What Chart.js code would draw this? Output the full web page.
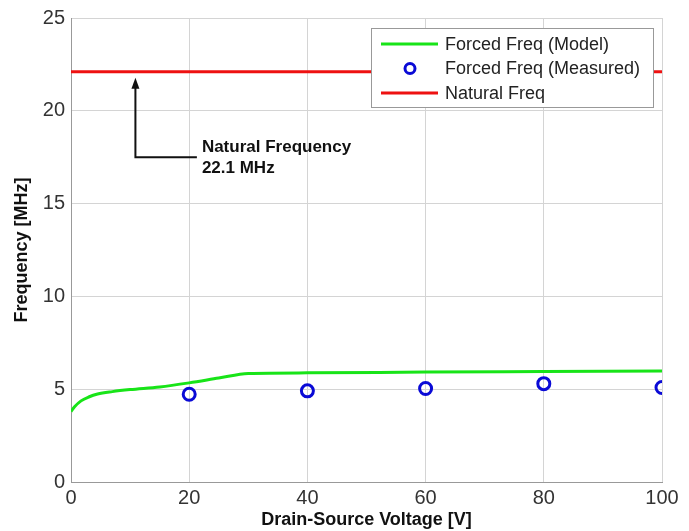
<!DOCTYPE html>
<html>
<head>
<meta charset="utf-8">
<script src="https://cdn.jsdelivr.net/npm/chart.js@4/dist/chart.umd.min.js"></script>
<style>
  html, body { margin: 0; padding: 0; background: #fff; }
  #wrap { width: 689px; height: 531px; position: relative; }
</style>
</head>
<body>
<div id="wrap"><canvas id="freqChart" width="689" height="531"></canvas></div>
<script>
// model curve (V, MHz)
const modelVoltage = [0, 0.6, 1.7, 3, 4.5, 7, 10, 15, 20, 25, 30, 40, 60, 80, 100];
const modelFreq = [3.8, 4.05, 4.37, 4.58, 4.74, 4.87, 4.98, 5.12, 5.34, 5.6, 5.85, 5.88, 5.92, 5.95, 5.98];
// measured points
const measVoltage = [20, 40, 60, 80, 100];
const measFreq = [4.73, 4.91, 5.04, 5.3, 5.09];
// natural frequency
const naturalVoltage = [0, 100];
const naturalFreq = [22.1, 22.1];

const xTicks = [0, 20, 40, 60, 80, 100];
const yTicks = [0, 5, 10, 15, 20, 25];

const seriesNames = ['Forced Freq (Model)', 'Forced Freq (Measured)', 'Natural Freq'];
const noteLines = ['Natural Frequency', '22.1 MHz'];

const FONT = '"Liberation Sans", Arial, sans-serif';

function toPoints(xs, ys) {
    return xs.map((x, i) => ({ x: x, y: ys[i] }));
}

// 矢印と注記
const notePlugin = {
    id: 'note',
    afterDatasetsDraw(chart) {
        const ctx = chart.ctx;
        const xs = chart.scales.x, ys = chart.scales.y;
        const ax = xs.getPixelForValue(10.9);
        const tipY = ys.getPixelForValue(22.1) + 6;
        const cornerY = ys.getPixelForValue(17.5);
        const endX = xs.getPixelForValue(21.3);
        ctx.save();
        ctx.strokeStyle = '#111';
        ctx.lineWidth = 2;
        ctx.beginPath();
        ctx.moveTo(endX, cornerY);
        ctx.lineTo(ax, cornerY);
        ctx.lineTo(ax, tipY + 8);
        ctx.stroke();
        ctx.fillStyle = '#111';
        ctx.beginPath();
        ctx.moveTo(ax, tipY);
        ctx.lineTo(ax - 4, tipY + 11);
        ctx.lineTo(ax + 4, tipY + 11);
        ctx.closePath();
        ctx.fill();
        ctx.font = 'bold 17px ' + FONT;
        ctx.textAlign = 'left';
        ctx.textBaseline = 'middle';
        ctx.fillText(noteLines[0], endX + 5, cornerY - 10);
        ctx.fillText(noteLines[1], endX + 5, cornerY + 11);
        ctx.restore();
    }
};

// 凡例（プロット内の右上）
const legendPlugin = {
    id: 'boxLegend',
    afterDraw(chart) {
        const ctx = chart.ctx;
        const area = chart.chartArea;
        const x0 = area.right - 291, y0 = area.top + 10;
        const w = 282, h = 79;
        ctx.save();
        ctx.fillStyle = '#fff';
        ctx.fillRect(x0, y0, w, h);
        ctx.strokeStyle = '#999';
        ctx.lineWidth = 1;
        ctx.strokeRect(x0 + 0.5, y0 + 0.5, w, h);
        ctx.font = '18px ' + FONT;
        ctx.textBaseline = 'middle';
        chart.data.datasets.forEach((ds, i) => {
            const y = y0 + 16 + i * 24.5;
            if (ds.showLine === false) {
                ctx.beginPath();
                ctx.arc(x0 + 39, y, 5, 0, Math.PI * 2);
                ctx.strokeStyle = ds.pointBorderColor;
                ctx.lineWidth = 3;
                ctx.stroke();
            } else {
                ctx.beginPath();
                ctx.moveTo(x0 + 10, y);
                ctx.lineTo(x0 + 67, y);
                ctx.strokeStyle = ds.borderColor;
                ctx.lineWidth = 3;
                ctx.stroke();
            }
            ctx.fillStyle = '#222';
            ctx.fillText(ds.label, x0 + 74, y + 1);
        });
        ctx.restore();
    }
};

const ctx = document.getElementById('freqChart').getContext('2d');
new Chart(ctx, {
    type: 'scatter',
    data: {
        datasets: [
            {
                label: seriesNames[0],
                data: toPoints(modelVoltage, modelFreq),
                showLine: true,
                borderColor: '#18e418',
                borderWidth: 3,
                pointRadius: 0,
                cubicInterpolationMode: 'monotone'
            },
            {
                label: seriesNames[1],
                data: toPoints(measVoltage, measFreq),
                showLine: false,
                pointRadius: 6,
                pointBorderWidth: 3,
                pointBorderColor: '#0a0ad6',
                pointBackgroundColor: 'rgba(0,0,0,0)'
            },
            {
                label: seriesNames[2],
                data: toPoints(naturalVoltage, naturalFreq),
                showLine: true,
                borderColor: '#ee1111',
                borderWidth: 3,
                pointRadius: 0
            }
        ]
    },
    options: {
        responsive: false,
        animation: false,
        layout: { padding: { top: 17, right: 27, left: 0, bottom: 0 } },
        plugins: {
            legend: { display: false },
            tooltip: { enabled: false }
        },
        scales: {
            x: {
                type: 'linear',
                min: 0,
                max: 100,
                afterBuildTicks: (scale) => { scale.ticks = xTicks.map(v => ({ value: v })); },
                afterFit: (scale) => { scale.height = 49; },
                grid: { color: '#d4d4d4', drawTicks: false },
                border: { color: '#999' },
                ticks: {
                    padding: 4,
                    color: '#333',
                    font: { size: 20, family: FONT }
                },
                title: {
                    display: true,
                    text: 'Drain-Source Voltage [V]',
                    color: '#111',
                    padding: { top: 0, bottom: 0 },
                    font: { size: 18, weight: 'bold', family: FONT }
                }
            },
            y: {
                type: 'linear',
                min: 0,
                max: 25,
                afterBuildTicks: (scale) => { scale.ticks = yTicks.map(v => ({ value: v })); },
                afterFit: (scale) => { scale.width = 71; },
                grid: { color: '#d4d4d4', drawTicks: false },
                border: { color: '#999' },
                ticks: {
                    padding: 6,
                    color: '#333',
                    font: { size: 20, family: FONT }
                },
                title: {
                    display: true,
                    text: 'Frequency [MHz]',
                    color: '#111',
                    padding: { top: 11, bottom: 0 },
                    font: { size: 18, weight: 'bold', family: FONT }
                }
            }
        }
    },
    plugins: [notePlugin, legendPlugin]
});
</script>
</body>
</html>
